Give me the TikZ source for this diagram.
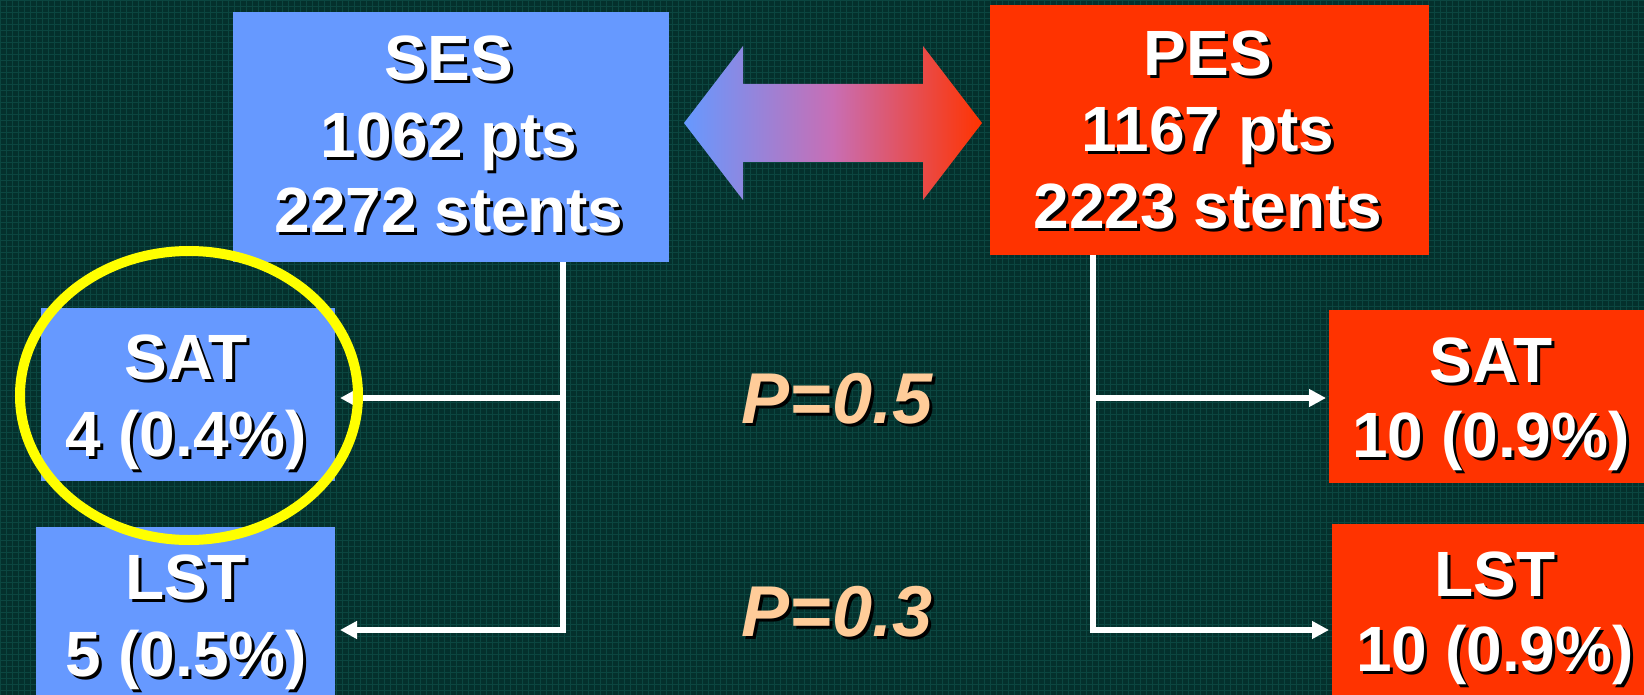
\documentclass[tikz,border=0pt]{standalone}
\usepackage{fontspec}
\setmainfont{Liberation Sans}
\usetikzlibrary{arrows.meta}
\definecolor{bg}{HTML}{04302C}
\definecolor{bgline}{HTML}{0B4640}
\definecolor{bluebox}{HTML}{6699FF}
\definecolor{redbox}{HTML}{FF3300}
\definecolor{peach}{HTML}{FFCC99}
\definecolor{hilite}{HTML}{FFFF00}
\definecolor{arrowmid}{HTML}{C86EB4}
\newcommand\shtext[2][white]{\leavevmode\rlap{\kern3pt\raisebox{-3pt}{\textcolor{black}{#2}}}\textcolor{#1}{#2}}
\begin{document}
\begin{tikzpicture}[x=1pt,y=-1pt,
  box/.style={rectangle, inner sep=0pt, outer sep=0pt},
  bluebx/.style={box, fill=bluebox},
  redbx/.style={box, fill=redbox},
  lbl/.style={anchor=base, inner sep=0pt, font=\fontsize{64pt}{75pt}\selectfont\bfseries},
  pval/.style={anchor=base, inner sep=0pt, font=\fontsize{72pt}{86pt}\selectfont\bfseries\itshape},
  conn/.style={draw=white, line width=5.5pt},
  arr/.style={conn, -{Triangle[length=17pt,width=17pt]}},
]
\useasboundingbox (0,0) rectangle (1644,695);
\clip (0,0) rectangle (1644,695);
\fill[bg] (0,0) rectangle (1644,695);
\foreach \i in {0,6,...,1644} {\draw[bgline, line width=0.8pt] (\i,0) -- (\i,695);}
\foreach \j in {0,6,...,695} {\draw[bgline, line width=0.8pt] (0,\j) -- (1644,\j);}

% boxes
\node[bluebx, minimum width=436pt, minimum height=250pt] (ses) at (451,137) {};
\node[redbx, minimum width=439pt, minimum height=250pt] (pes) at (1209.5,130) {};
\node[bluebx, minimum width=294pt, minimum height=173pt] (lsat) at (188,394.5) {};
\node[bluebx, minimum width=299pt, minimum height=183pt] (llst) at (185.5,618.5) {};
\node[redbx, minimum width=331pt, minimum height=173pt] (rsat) at (1494.5,396.5) {};
\node[redbx, minimum width=328pt, minimum height=186pt] (rlst) at (1496,617) {};

% double arrow
\shade[left color=bluebox, right color=redbox, middle color=arrowmid]
  (684,123) -- (743,46) -- (743,84) -- (923,84) -- (923,46) -- (982,123)
  -- (923,200) -- (923,162) -- (743,162) -- (743,200) -- cycle;

% connectors
\coordinate (jl) at (563,630);
\coordinate (jr) at (1093,630);
\coordinate (bl) at (563,398);
\coordinate (br) at (1093,398);
\draw[arr, shorten >=5pt] (ses.south -| jl) -- (jl) -- (jl -| llst.east);
\draw[arr, shorten >=5pt] (bl) -- (bl -| lsat.east);
\draw[arr, shorten >=3pt] (pes.south -| jr) -- (jr) -- (jr -| rlst.west);
\draw[arr, shorten >=3pt] (br) -- (br -| rsat.west);

% highlight
\draw[hilite, line width=10pt] (189,395.5) ellipse [x radius=169pt, y radius=144.5pt];

% texts
\node[lbl] (ses1) at (449,81) {\shtext{SES}};
\node[lbl] (ses2) at (449,158) {\shtext{1062 pts}};
\node[lbl] (ses3) at (449,233) {\shtext{2272 stents}};
\node[lbl] (pes1) at (1208,76) {\shtext{PES}};
\node[lbl] (pes2) at (1208,152) {\shtext{1167 pts}};
\node[lbl] (pes3) at (1208,229) {\shtext{2223 stents}};
\node[lbl] (lsat1) at (186,379) {\shtext{SAT}};
\node[lbl] (lsat2) at (186,456) {\shtext{4 (0.4\%)}};
\node[lbl] (llst1) at (186,599) {\shtext{LST}};
\node[lbl] (llst2) at (186,676) {\shtext{5 (0.5\%)}};
\node[lbl] (rsat1) at (1491,382) {\shtext{SAT}};
\node[lbl] (rsat2) at (1491,457) {\shtext{10 (0.9\%)}};
\node[lbl] (rlst1) at (1495,596) {\shtext{LST}};
\node[lbl] (rlst2) at (1495,671) {\shtext{10 (0.9\%)}};
\node[pval] (p1) at (837,423) {\shtext[peach]{P=0.5}};
\node[pval] (p2) at (837,636) {\shtext[peach]{P=0.3}};
\end{tikzpicture}
\end{document}
